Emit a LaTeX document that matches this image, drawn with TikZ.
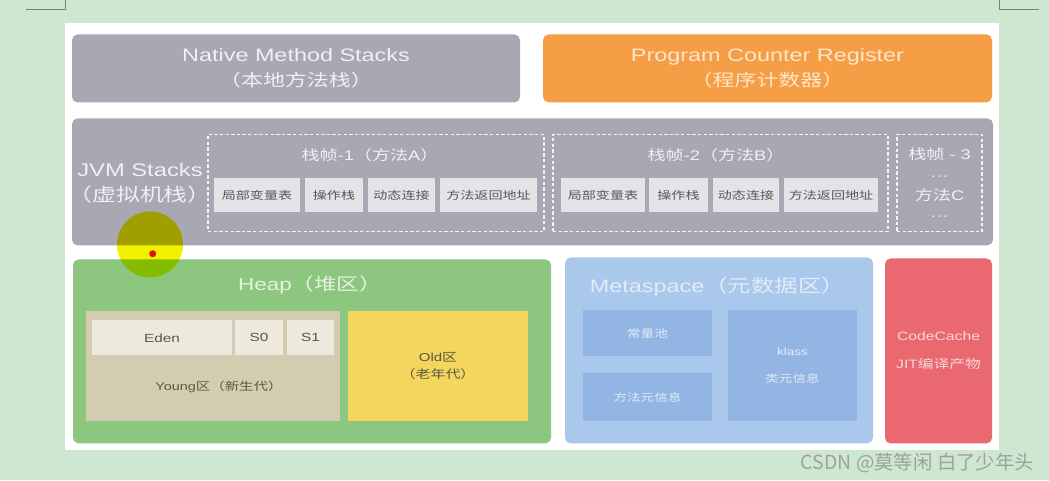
\documentclass[tikz,border=0pt]{standalone}
\usepackage{fontspec}
\setmainfont[FakeStretch=1.3]{Liberation Sans}
\newfontfamily\cjk[FakeStretch=1.3]{Noto Sans CJK SC}
\newfontfamily\wmfont{Noto Sans CJK SC}
\newcommand\zh[1]{{\cjk #1}}
\newcommand\pxu{0.025cm}

\definecolor{bggreen}{HTML}{CDE7D0}
\definecolor{markline}{HTML}{6A8A70}
\definecolor{graybox}{HTML}{A9A8B2}
\definecolor{orangebox}{HTML}{F69E45}
\definecolor{textlight}{HTML}{F0F0F4}
\definecolor{orangetext}{HTML}{FCE6CC}
\definecolor{cellgray}{HTML}{E4E4E7}
\definecolor{celltext}{HTML}{55555C}
\definecolor{dashwhite}{HTML}{F4F4F6}
\definecolor{heapgreen}{HTML}{8DC67E}
\definecolor{heaptext}{HTML}{E6F2E0}
\definecolor{youngtan}{HTML}{D3CCB1}
\definecolor{edencream}{HTML}{EDE9DC}
\definecolor{darktext}{HTML}{5A5648}
\definecolor{oldyellow}{HTML}{F4D65C}
\definecolor{metablue}{HTML}{AAC8EC}
\definecolor{metainner}{HTML}{92B5E3}
\definecolor{metatext}{HTML}{E2ECF8}
\definecolor{codered}{HTML}{EA6870}
\definecolor{codetext}{HTML}{F8D8D8}
\definecolor{wmgray}{HTML}{9AA39C}
\definecolor{cursoryellow}{HTML}{F2F200}
\definecolor{dotred}{HTML}{E01010}

\tikzset{
  sz/.style 2 args={minimum width=#1*\pxu, minimum height=#2*\pxu},
  area/.style={rounded corners=4pt, inner sep=0pt},
  cell/.style={inner sep=0pt, fill=cellgray, text=celltext,
    font=\fontsize{7.7}{9}\selectfont\cjk},
  frame/.style={draw=dashwhite, line width=0.8pt,
    dash pattern=on 2.4pt off 1.6pt, inner sep=0pt},
  frametitle/.style={text=textlight, font=\fontsize{9.9}{12}\selectfont},
  gen/.style={inner sep=0pt, fill=edencream, text=darktext,
    font=\fontsize{8.4}{10}\selectfont},
  metacell/.style={inner sep=0pt, fill=metainner, text=metatext,
    font=\fontsize{7.4}{19}\selectfont, align=center}
}

\begin{document}
\begin{tikzpicture}[x=0.025cm, y=-0.025cm]
  % page
  \fill[bggreen] (0,0) rectangle (1049,480);
  \fill[white] (65,22.5) rectangle (999,449.5);
  \draw[markline, line width=0.6pt] (26,9) -- (65.5,9) -- (65.5,0);
  \draw[markline, line width=0.6pt] (999,0) -- (999,9) -- (1039,9);

  % top row
  \node[area, fill=graybox, text=textlight, sz={448}{68}, align=center,
    font=\fontsize{12.8}{17.8}\selectfont] (native) at (296,68)
    {Native Method Stacks\\\zh{\fontsize{12}{17.8}\selectfont（本地方法栈）}};
  \node[area, fill=orangebox, text=orangetext, sz={449}{68}, align=center,
    font=\fontsize{12.8}{17.8}\selectfont] (pcr) at (767.5,68)
    {Program Counter Register\\\zh{\fontsize{12}{17.8}\selectfont（程序计数器）}};

  % JVM stacks
  \node[area, fill=graybox, sz={921}{127}] (jvm) at (532.5,181.5) {};
  \node[text=textlight, align=center, font=\fontsize{13}{17.8}\selectfont]
    (jvmlabel) at (140,183) {JVM Stacks\\\zh{（虚拟机栈）}};

  \node[frame, sz={336}{97}] (frameA) at (376,182.5) {};
  \node[frametitle] (titleA) at (370,155) {\zh{栈帧}-1\zh{（方法}A\zh{）}};
  \node[cell, sz={86}{34}] (localA) at (257,195) {局部变量表};
  \node[cell, sz={58}{34}] (operA) at (334,195) {操作栈};
  \node[cell, sz={67}{34}] (linkA) at (401.5,195) {动态连接};
  \node[cell, sz={97}{34}] (retA) at (488.5,195) {方法返回地址};

  \node[frame, sz={335}{97}] (frameB) at (720.5,182.5) {};
  \node[frametitle] (titleB) at (716,155) {\zh{栈帧}-2\zh{（方法}B\zh{）}};
  \node[cell, sz={84}{34}] (localB) at (603,195) {局部变量表};
  \node[cell, sz={59}{34}] (operB) at (678.5,195) {操作栈};
  \node[cell, sz={66}{34}] (linkB) at (746,195) {动态连接};
  \node[cell, sz={94}{34}] (retB) at (831,195) {方法返回地址};

  \node[frame, sz={85}{97}] (frameC) at (939.5,182.5) {};
  \node[frametitle, align=center, font=\fontsize{9.9}{14.4}\selectfont]
    (titleC) at (939.5,184) {\zh{栈帧} - 3\\···\\\zh{方法}C\\···};

  % heap
  \node[area, fill=heapgreen, sz={478}{184}] (heap) at (312,351) {};
  \node[text=heaptext, font=\fontsize{12.3}{14}\selectfont] (heaptitle)
    at (310,284) {Heap\zh{（堆区）}};
  \node[inner sep=0pt, fill=youngtan, sz={254}{110}] (young) at (213,366) {};
  \node[gen, sz={140}{35}] (eden) at (162,337.5) {Eden};
  \node[gen, sz={48}{35}] (szero) at (259,337.5) {S0};
  \node[gen, sz={47}{35}] (sone) at (310.5,337.5) {S1};
  \node[text=darktext, font=\fontsize{7.9}{10}\selectfont] (younglabel)
    at (219,386) {Young\zh{区（新生代）}};
  \node[inner sep=0pt, fill=oldyellow, sz={180}{110}, text=darktext,
    align=center, font=\fontsize{8.2}{12}\selectfont] (old) at (438,366)
    {Old\zh{区}\\\zh{（老年代）}};

  % metaspace
  \node[area, fill=metablue, sz={308}{186}] (meta) at (719,350) {};
  \node[anchor=west, text=metatext, font=\fontsize{12.8}{14}\selectfont]
    (metatitle) at (585,286) {Metaspace\zh{（元数据区）}};
  \node[metacell, sz={129}{46}] (pool) at (647.5,333) {\zh{常量池}};
  \node[metacell, sz={129}{48}] (methodinfo) at (647.5,397) {\zh{方法元信息}};
  \node[metacell, sz={129}{111}] (klass) at (792.5,365.5)
    {klass\\\zh{类元信息}};

  % code cache
  \node[area, fill=codered, sz={107}{185}, text=codetext, align=center,
    font=\fontsize{8.6}{20}\selectfont] (codecache) at (938.5,350.5)
    {CodeCache\\JIT\zh{编译产物}};

  % watermark
  \node[anchor=west, text=wmgray, font=\wmfont\fontsize{13.8}{15}\selectfont]
    (mark) at (796,463) {CSDN @莫等闲 白了少年头};

  % cursor
  \begin{scope}[blend mode=multiply]
    \fill[cursoryellow] (150,244) circle (33);
  \end{scope}
  \fill[dotred] (152.7,253.3) circle (3.5);
\end{tikzpicture}
\end{document}
